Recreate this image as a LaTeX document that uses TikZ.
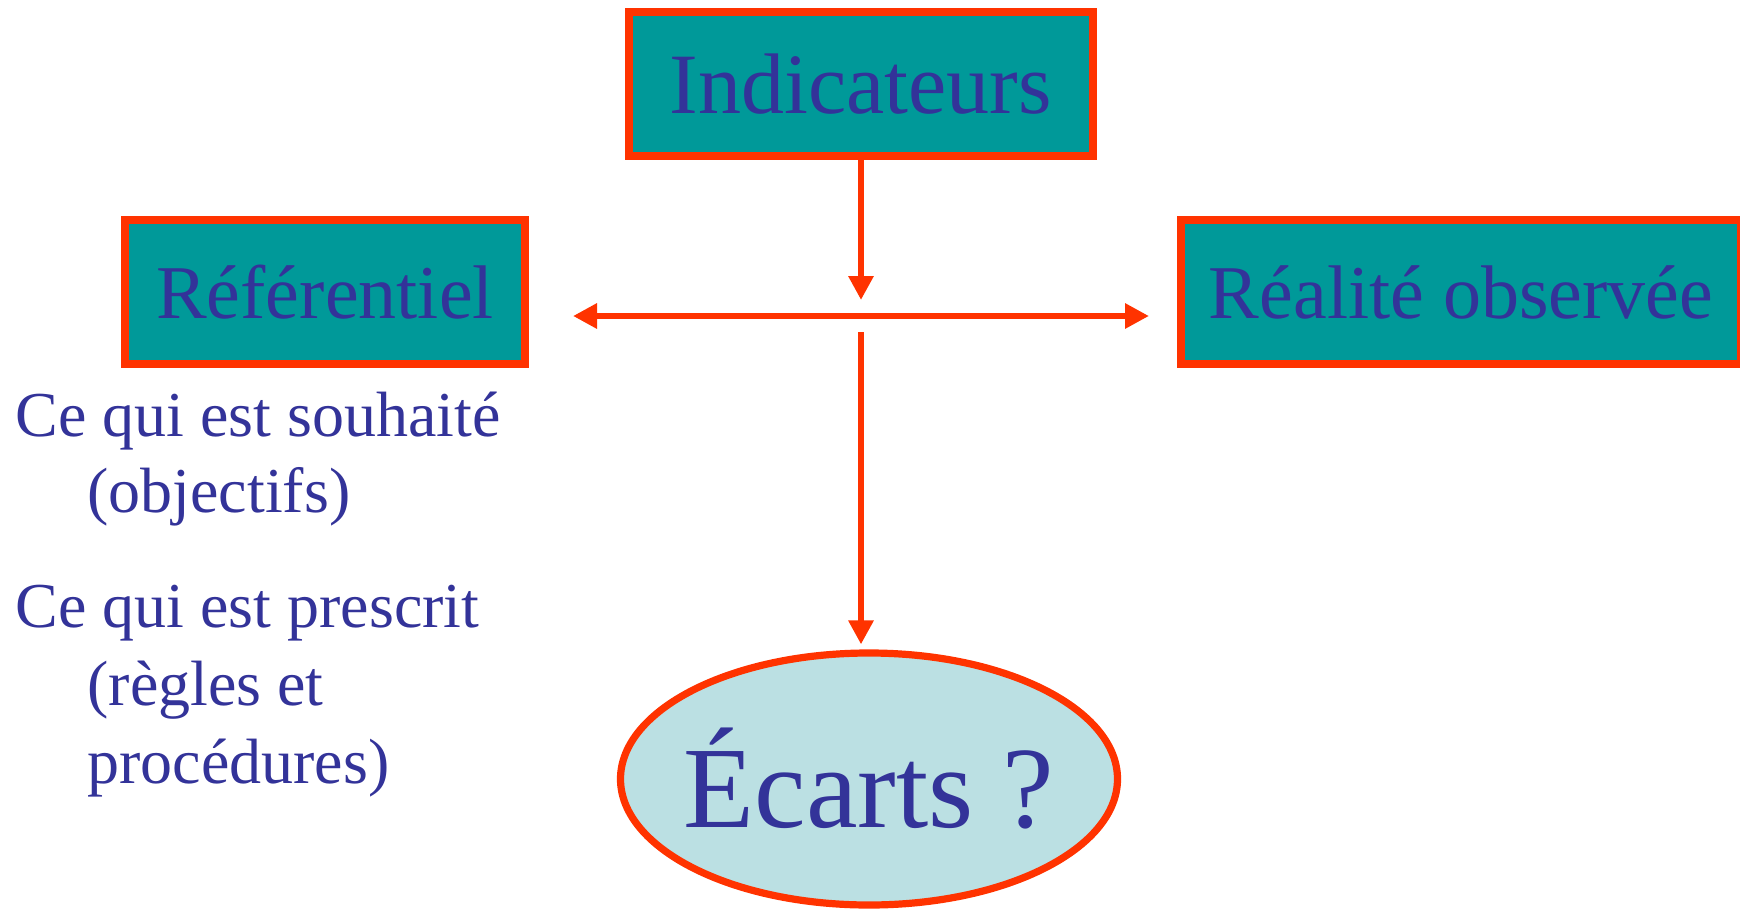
\documentclass[tikz,border=0pt]{standalone}
\usepackage{fontspec}
\setmainfont{Liberation Serif}
\usetikzlibrary{arrows.meta,shapes.geometric}
\definecolor{boxteal}{HTML}{009999}
\definecolor{edgered}{HTML}{FF3300}
\definecolor{txtblue}{HTML}{333399}
\definecolor{ellfill}{HTML}{BBE0E3}
\begin{document}
\begin{tikzpicture}[x=0.5pt,y=-0.5pt,
  tealbox/.style={draw=edgered,fill=boxteal,line width=4pt,inner sep=0pt,minimum height=72pt,text=txtblue},
  conn/.style={draw=edgered,line width=3.4pt},
  >={Triangle[length=12pt,width=12pt]},
  sidetext/.style={anchor=base west,text=txtblue,font=\fontsize{32}{38}\selectfont,inner sep=0pt}
]
\useasboundingbox (0,0) rectangle (1740,910);
\clip (0,0) rectangle (1740,910);
\node[tealbox,minimum width=232pt,font=\fontsize{43}{50}\selectfont] (ind) at (861,84) {Indicateurs};
\node[tealbox,minimum width=200pt,font=\fontsize{38}{45}\selectfont] (ref) at (325,292) {Référentiel};
\node[tealbox,minimum width=280pt,font=\fontsize{38}{45}\selectfont] (real) at (1461,292) {Réalité observée};
\node[ellipse,draw=edgered,fill=ellfill,line width=3.6pt,inner sep=0pt,minimum width=248.5pt,minimum height=126pt,
  label={[text=txtblue,font=\fontsize{58}{66}\selectfont,inner sep=0pt]center:Écarts ?}] (ecarts) at (869,779) {};
\coordinate (hub) at (861,316);
\coordinate (hubL) at (573,316);
\coordinate (hubR) at (1149,316);
\coordinate (downtip) at (861,300);
\coordinate (downstart) at (861,332);
\draw[conn,->] (ind.south) -- (downtip);
\draw[conn,<->] (hubL) -- (hubR);
\draw[conn,->] (downstart) -- ([yshift=2.5pt]downstart |- ecarts.north);
\node[sidetext] (s1) at (15,436) {Ce qui est souhaité};
\node[sidetext] (s2) at (87,512) {(objectifs)};
\node[sidetext] (p1) at (15,627) {Ce qui est prescrit};
\node[sidetext] (p2) at (87,705) {(règles et};
\node[sidetext] (p3) at (87,783) {procédures)};
\end{tikzpicture}
\end{document}
